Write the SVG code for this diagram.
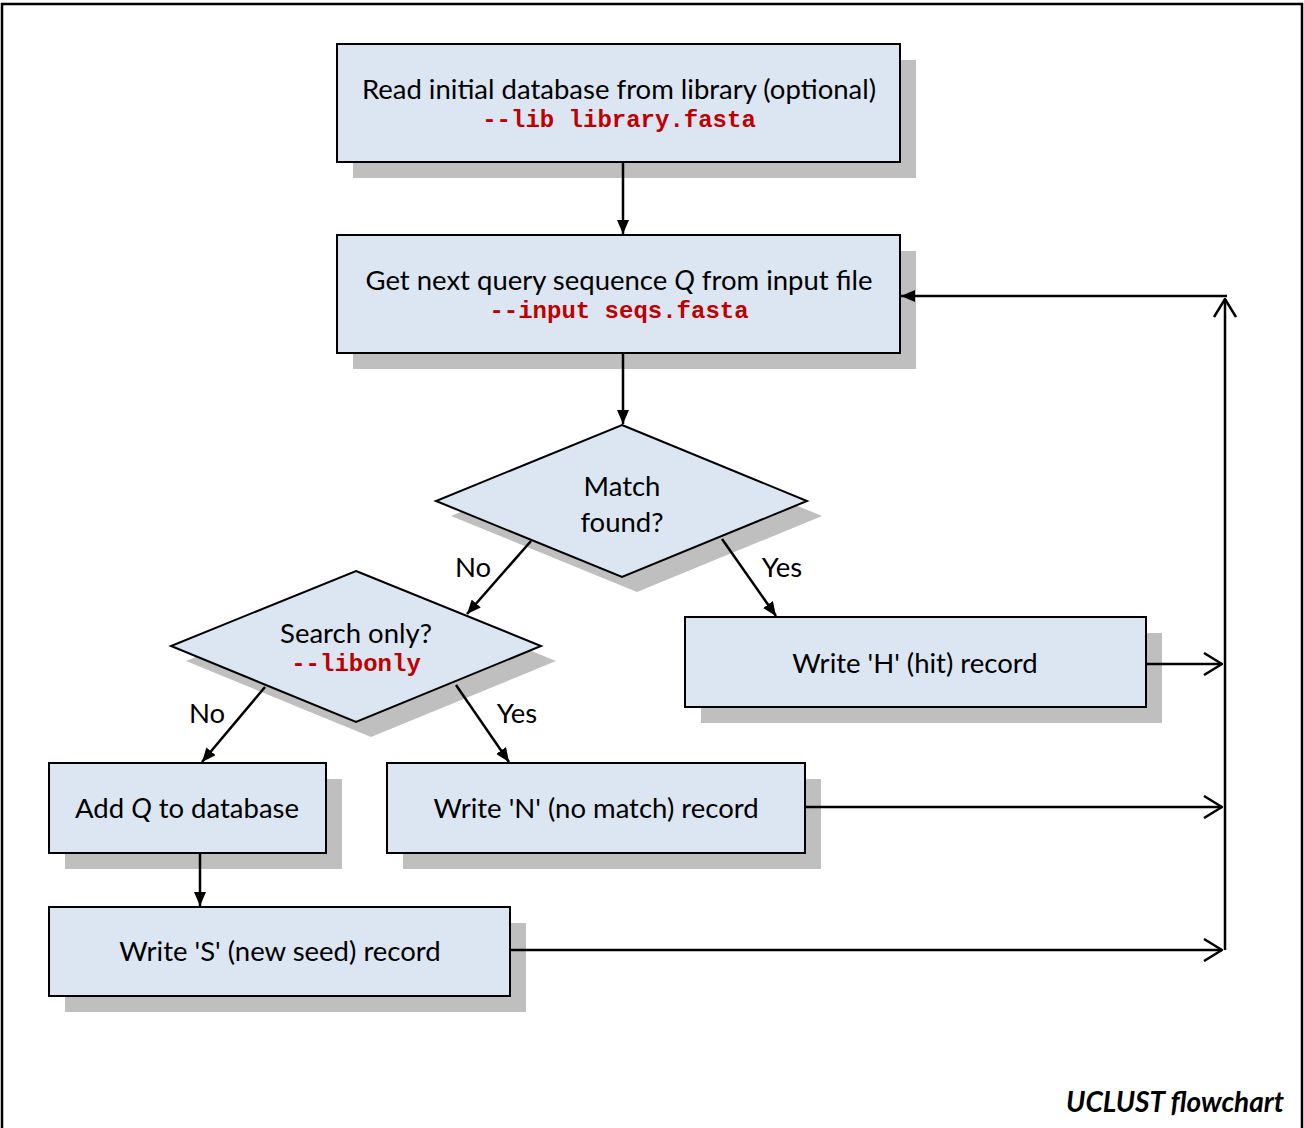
<svg xmlns="http://www.w3.org/2000/svg" width="1304" height="1128" viewBox="0 0 1304 1128">
<defs>
<marker id="fa" viewBox="0 0 14 12" refX="14" refY="6" markerWidth="14" markerHeight="12" markerUnits="userSpaceOnUse" orient="auto">
<path d="M0,0 L14,6 L0,12 z" fill="#000"/>
</marker>
<marker id="oa" viewBox="0 0 20 24" refX="19" refY="12" markerWidth="20" markerHeight="24" markerUnits="userSpaceOnUse" orient="auto">
<path d="M1,1 L19,12 L1,23" fill="none" stroke="#000" stroke-width="2.5"/>
</marker>
<style>
.box{fill:#dce6f2;stroke:#000;stroke-width:2}
.sh{fill:#bfbfbf}
.t{font-family:Lato,"Open Sans","Liberation Sans",sans-serif;font-size:27.5px;fill:#000;text-anchor:middle}
.c{font-family:"Liberation Mono","Courier New",monospace;font-weight:bold;font-size:24px;fill:#c00000;text-anchor:middle}
.ln{stroke:#000;stroke-width:2.5;fill:none}
</style>
</defs>
<rect width="1304" height="1128" fill="#fff"/>
<rect x="2" y="4" width="1300" height="1140" fill="none" stroke="#000" stroke-width="2.5"/>

<g id="n1">
<rect class="sh" x="353" y="60" width="563" height="118"/>
<rect class="box" x="337" y="44" width="563" height="118"/>
<text class="t" x="619" y="99">Read initial database from library (optional)</text>
<text class="c" x="619" y="127">--lib library.fasta</text>
</g>
<g id="n2">
<rect class="sh" x="353" y="251" width="563" height="118"/>
<rect class="box" x="337" y="235" width="563" height="118"/>
<text class="t" x="619" y="290">Get next query sequence <tspan font-style="italic">Q</tspan> from input file</text>
<text class="c" x="619" y="318">--input seqs.fasta</text>
</g>
<g id="d1">
<polygon class="sh" points="637,440 822,516 637,592 451,516"/>
<polygon class="box" points="622,425 807,501 622,577 436,501"/>
<text class="t" x="622" y="496">Match</text>
<text class="t" x="622" y="532">found?</text>
</g>
<g id="d2">
<polygon class="sh" points="371,586 556,661 371,737 186,661"/>
<polygon class="box" points="356,571 541,646 356,722 171,646"/>
<text class="t" x="356" y="643">Search only?</text>
<text class="c" x="356" y="671">--libonly</text>
</g>
<g id="nH">
<rect class="sh" x="701" y="633" width="461" height="90"/>
<rect class="box" x="685" y="617" width="461" height="90"/>
<text class="t" x="915" y="673">Write 'H' (hit) record</text>
</g>
<g id="nN">
<rect class="sh" x="403" y="779" width="418" height="90"/>
<rect class="box" x="387" y="763" width="418" height="90"/>
<text class="t" x="596" y="818">Write 'N' (no match) record</text>
</g>
<g id="nA">
<rect class="sh" x="65" y="779" width="277" height="90"/>
<rect class="box" x="49" y="763" width="277" height="90"/>
<text class="t" x="187" y="818">Add <tspan font-style="italic">Q</tspan> to database</text>
</g>
<g id="nS">
<rect class="sh" x="65" y="923" width="461" height="89"/>
<rect class="box" x="49" y="907" width="461" height="89"/>
<text class="t" x="280" y="961">Write 'S' (new seed) record</text>
</g>

<g id="connectors">
<line class="ln" x1="623" y1="162" x2="623" y2="234" marker-end="url(#fa)"/>
<line class="ln" x1="623" y1="353" x2="623" y2="424" marker-end="url(#fa)"/>
<line class="ln" x1="531" y1="541" x2="467" y2="614" marker-end="url(#fa)"/>
<line class="ln" x1="722" y1="539" x2="776" y2="616" marker-end="url(#fa)"/>
<line class="ln" x1="265" y1="687" x2="202" y2="762" marker-end="url(#fa)"/>
<line class="ln" x1="456" y1="685" x2="509" y2="762" marker-end="url(#fa)"/>
<line class="ln" x1="200" y1="853" x2="200" y2="906" marker-end="url(#fa)"/>
<line class="ln" x1="1146" y1="664" x2="1222" y2="664" marker-end="url(#oa)"/>
<line class="ln" x1="805" y1="807" x2="1222" y2="807" marker-end="url(#oa)"/>
<line class="ln" x1="510" y1="950" x2="1222" y2="950" marker-end="url(#oa)"/>
<line class="ln" x1="1225" y1="950" x2="1225" y2="299" marker-end="url(#oa)"/>
<line class="ln" x1="1227" y1="296" x2="901" y2="296" marker-end="url(#fa)"/>
<text class="t" x="473" y="577">No</text>
<text class="t" x="782" y="577">Yes</text>
<text class="t" x="207" y="723">No</text>
<text class="t" x="517" y="723">Yes</text>
</g>
<text x="1284" y="1112" font-family="Lato,'Open Sans',sans-serif" font-size="28" font-weight="bold" font-style="italic" text-anchor="end">UCLUST flowchart</text>
</svg>
